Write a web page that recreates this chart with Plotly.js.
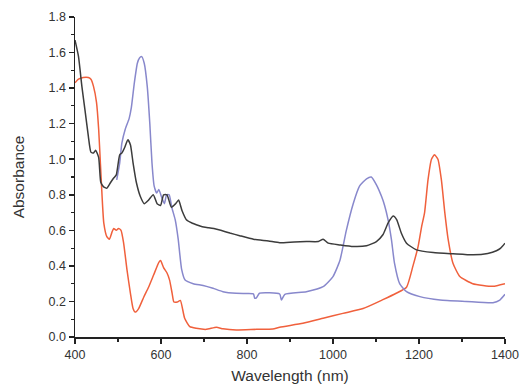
<!DOCTYPE html>
<html>
<head>
<meta charset="utf-8">
<script src="https://cdn.plot.ly/plotly-3.0.1.min.js"></script>
<style>html,body{margin:0;padding:0;background:#fff;}#chart{width:523px;height:386px;}</style>
</head>
<body>
<div id="chart"></div>
<script>
// Black spectrum
const blackX = [400,408,416,423,431,437,443,448,455,460,466,474,482,490,496,504,509,515,523,529,535,543,552,561,571,582,591,599,606,614,624,634,641,649,659,673,684,696,711,723,739,760,783,815,850,876,910,938,966,977,989,1016,1047,1078,1101,1116,1128,1140,1148,1159,1171,1194,1233,1279,1326,1360,1380,1390,1400];
const blackY = [1.67,1.58,1.41,1.28,1.13,1.04,1.035,1.05,1.01,0.87,0.846,0.837,0.866,0.894,0.912,1.025,1.035,1.063,1.11,1.08,0.98,0.866,0.79,0.75,0.77,0.80,0.75,0.74,0.80,0.80,0.73,0.75,0.77,0.71,0.66,0.64,0.63,0.62,0.615,0.61,0.60,0.585,0.57,0.55,0.54,0.53,0.535,0.537,0.537,0.55,0.528,0.518,0.509,0.513,0.537,0.575,0.64,0.68,0.66,0.584,0.528,0.49,0.475,0.468,0.462,0.47,0.485,0.50,0.528];
// Blue spectrum
const blueX = [497,504,509,517,526,531,538,545,550,555,561,568,574,579,584,590,595,601,608,613,619,625,633,640,648,656,675,698,721,744,775,800,815,818,822,829,876,880,888,938,977,1000,1016,1031,1047,1062,1078,1089,1101,1113,1120,1128,1136,1143,1155,1171,1202,1249,1310,1372,1388,1400];
const blueY = [0.884,0.98,1.09,1.17,1.23,1.29,1.43,1.54,1.57,1.577,1.54,1.41,1.20,0.98,0.85,0.81,0.83,0.79,0.75,0.80,0.80,0.73,0.66,0.55,0.38,0.32,0.30,0.29,0.274,0.255,0.246,0.245,0.243,0.218,0.22,0.246,0.242,0.208,0.24,0.255,0.283,0.34,0.43,0.60,0.75,0.85,0.89,0.90,0.856,0.79,0.74,0.66,0.546,0.415,0.30,0.255,0.227,0.208,0.20,0.193,0.208,0.24];
// Red spectrum
const redX = [400,408,419,431,437,443,450,455,459,463,467,474,480,486,490,496,501,507,513,521,529,535,540,548,560,571,583,595,599,606,614,620,626,630,638,645,655,667,682,705,729,744,775,822,860,876,930,977,1023,1070,1116,1147,1171,1186,1198,1206,1213,1221,1229,1236,1244,1252,1260,1268,1279,1295,1325,1349,1372,1400];
const redY = [1.43,1.45,1.46,1.46,1.45,1.41,1.32,1.17,0.98,0.79,0.64,0.564,0.55,0.59,0.61,0.60,0.61,0.60,0.53,0.376,0.244,0.16,0.14,0.16,0.225,0.28,0.35,0.42,0.43,0.39,0.36,0.32,0.244,0.197,0.197,0.206,0.105,0.058,0.049,0.043,0.055,0.046,0.039,0.043,0.045,0.055,0.077,0.105,0.133,0.16,0.21,0.246,0.28,0.40,0.51,0.62,0.70,0.885,1.0,1.025,1.0,0.885,0.70,0.546,0.415,0.34,0.30,0.29,0.285,0.30];

const xTickVals = [400,600,800,1000,1200,1400];
const yTickVals = [0.0,0.2,0.4,0.6,0.8,1.0,1.2,1.4,1.6,1.8];

function tr(x, y, color) {
  return {x: x, y: y, type: 'scatter', mode: 'lines',
    line: {color: color, width: 1.5, shape: 'spline', smoothing: 0.5},
    hoverinfo: 'skip', showlegend: false};
}

const data = [
  tr(redX, redY, '#f0603c'),
  tr(blueX, blueY, '#8888cc'),
  tr(blackX, blackY, '#3c3c3c')
];

const fam = 'Liberation Sans, Arial, sans-serif';
const layout = {
  width: 523, height: 386,
  margin: {l: 75, r: 18, t: 17, b: 49},
  paper_bgcolor: '#fff', plot_bgcolor: '#fff',
  font: {family: fam, color: '#333', size: 12.5},
  showlegend: false,
  xaxis: {
    range: [400, 1400], tickvals: xTickVals, ticktext: xTickVals.map(String),
    showgrid: false, zeroline: false, showline: true, linecolor: '#222', linewidth: 1.5,
    ticks: 'outside', ticklen: 5, tickwidth: 1.5, tickcolor: '#222',
    minor: {dtick: 100, tick0: 400, ticks: 'outside', ticklen: 3, tickwidth: 1.2, tickcolor: '#222', showgrid: false},
    tickfont: {family: fam, size: 12.5, color: '#333'},
    title: {text: 'Wavelength (nm)', font: {family: fam, size: 15.5, color: '#333'}, standoff: 9}
  },
  yaxis: {
    range: [0, 1.8], tickvals: yTickVals, ticktext: yTickVals.map(v => v.toFixed(1)),
    showgrid: false, zeroline: false, showline: true, linecolor: '#222', linewidth: 1.5,
    ticks: 'outside', ticklen: 5, tickwidth: 1.5, tickcolor: '#222',
    minor: {dtick: 0.1, tick0: 0, ticks: 'outside', ticklen: 3, tickwidth: 1.2, tickcolor: '#222', showgrid: false},
    tickfont: {family: fam, size: 12.5, color: '#333'},
    title: {text: 'Absorbance', font: {family: fam, size: 15.5, color: '#333'}, standoff: 20}
  }
};

Plotly.newPlot('chart', data, layout, {displayModeBar: false, staticPlot: true});
</script>
</body>
</html>
